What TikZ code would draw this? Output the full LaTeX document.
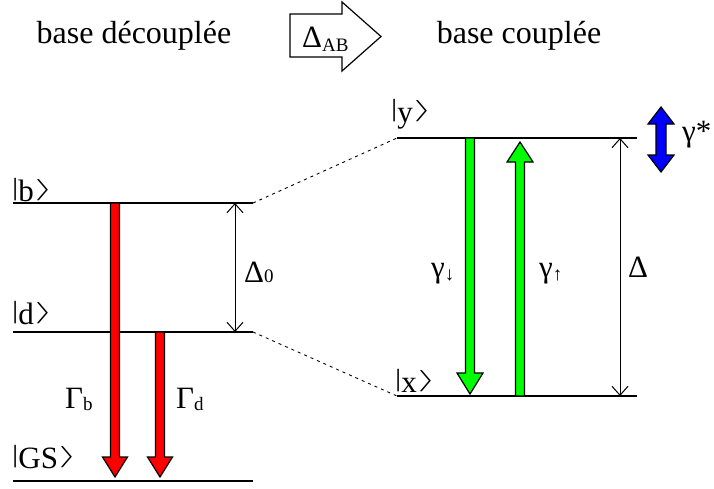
\documentclass[tikz,border=0pt]{standalone}
\usepackage{fontspec}
\setmainfont{Liberation Serif}
\usetikzlibrary{arrows.meta}
\newcommand{\kbar}{\raisebox{0.17em}{\scalebox{1}[0.8]{|}}}
\newcommand{\kang}{\kern0.02em\raisebox{0.17em}{\resizebox*{0.6em}{0.69em}{$\rangle$}}}
\newcommand{\ket}[1]{\kbar#1\kang}
\newcommand{\sub}[2][-2pt]{\raisebox{#1}{\fontsize{19}{19}\selectfont #2}}
\begin{document}
\begin{tikzpicture}[x=1pt,y=-1pt,
  level/.style={line width=1.3pt},
  lbl/.style={inner sep=0pt, font=\fontsize{31}{31}\selectfont},
  ttl/.style={inner sep=0pt, font=\fontsize{32}{32}\selectfont},
  conn/.style={line width=0.9pt, dash pattern=on 3pt off 4pt},
  gap/.style={line width=1pt, {Straight Barb[length=9pt,width=16pt,line width=1pt]}-{Straight Barb[length=9pt,width=16pt,line width=1pt]}},
  fat/.style={line width=1.2pt, draw=black, line join=miter}
]
\useasboundingbox (0,0) rectangle (714,488);
% levels
\coordinate (bL) at (13,203); \coordinate (bR) at (253,203);
\coordinate (dL) at (13,332); \coordinate (dR) at (253,332);
\coordinate (gL) at (13,481); \coordinate (gR) at (253,481);
\coordinate (yL) at (397,138); \coordinate (yR) at (637,138);
\coordinate (xL) at (397,396); \coordinate (xR) at (637,396);
\draw[level] (bL) -- (bR);
\draw[level] (dL) -- (dR);
\draw[level] (gL) -- (gR);
\draw[level] (yL) -- (yR);
\draw[level] (xL) -- (xR);
\draw[conn] (bR) -- (yL);
\draw[conn] (dR) -- (xL);
% level labels
\node[lbl, anchor=base west] (kb) at (12,201) {\ket{b}};
\node[lbl, anchor=base west] (kd) at (12,324) {\ket{d}};
\node[lbl, anchor=base west] (kg) at (12,468) {\ket{GS}};
\node[lbl, anchor=base west] (ky) at (391,122) {\ket{y}};
\node[lbl, anchor=base west] (kx) at (395,392) {\ket{x}};
% title
\node[ttl, anchor=base] (t1) at (134,43) {base découplée};
\node[ttl, anchor=base] (t2) at (519,43) {base couplée};
\draw[line width=1.2pt, fill=white] (290,14) -- (342,14) -- (342,2) -- (381,36.5) -- (342,71) -- (342,57) -- (290,57) -- cycle;
\node[lbl, anchor=base west] (dab) at (302,47) {Δ\sub[-4pt]{AB}};
% red arrows
\draw[fat, fill=red] (110.5,203) -- (119.5,203) -- (119.5,457) -- (127.5,457) -- (115,477) -- (102.5,457) -- (110.5,457) -- cycle;
\draw[fat, fill=red] (155.5,332) -- (164.5,332) -- (164.5,457) -- (172.5,457) -- (160,477) -- (147.5,457) -- (155.5,457) -- cycle;
\node[lbl, anchor=base west] (Gb) at (65,408) {Γ\sub{b}};
\node[lbl, anchor=base west] (Gd) at (176,408) {Γ\sub{d}};
% green arrows
\draw[fat, fill=green] (465.5,138) -- (474.5,138) -- (474.5,373) -- (483,373) -- (470,394) -- (457,373) -- (465.5,373) -- cycle;
\draw[fat, fill=green] (515.5,396) -- (524.5,396) -- (524.5,162) -- (533,162) -- (520,142) -- (507,162) -- (515.5,162) -- cycle;
\node[lbl, anchor=base west] (gd) at (431,277) {γ\sub[-3pt]{↓}};
\node[lbl, anchor=base west] (gu) at (539,277) {γ\sub[-3pt]{↑}};
% gaps
\coordinate (D0t) at (235,203); \coordinate (D0b) at (235,332);
\draw[gap] (D0t) -- (D0b);
\node[lbl, anchor=base west] (D0) at (244,282) {Δ\sub[0pt]{0}};
\coordinate (Dt) at (620,138); \coordinate (Db) at (620,396);
\draw[gap] (Dt) -- (Db);
\node[lbl, anchor=base west] (Dl) at (628,277) {Δ};
% blue arrow
\draw[fat, fill=blue] (661,107) -- (674,124) -- (666,124) -- (666,155) -- (674,155) -- (661,172) -- (648,155) -- (656,155) -- (656,124) -- (648,124) -- cycle;
\node[lbl, anchor=base west] (gs) at (682,141) {γ*};
\end{tikzpicture}
\end{document}
